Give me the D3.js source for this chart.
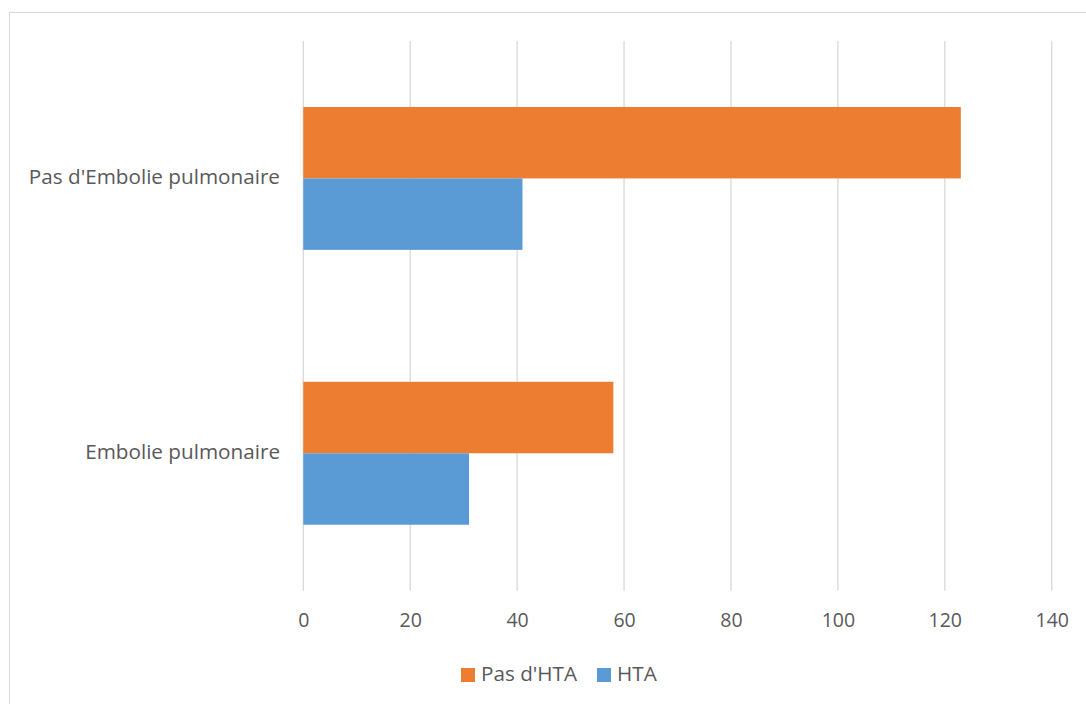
<!DOCTYPE html>
<html>
<head>
<meta charset="utf-8">
<script src="https://cdn.jsdelivr.net/npm/d3@7"></script>
<style>
  html, body { margin: 0; padding: 0; background: #fff; }
  svg { display: block; }
  text { font-family: "Open Sans", "Noto Sans", sans-serif; fill: #595959; }
</style>
</head>
<body>
<svg id="chart" width="1086" height="704"></svg>
<script>
// Categories (bottom to top as listed) and series values
const categories = ["Embolie pulmonaire", "Pas d'Embolie pulmonaire"];
const seriesNames = ["Pas d'HTA", "HTA"];
const pasHTA = [58, 123];
const hta = [31, 41];
const xTicks = [0, 20, 40, 60, 80, 100, 120, 140];
const colors = ["#ED7D31", "#5B9BD5"];

const svg = d3.select("#chart");
const W = 1086, H = 704;

// Chart frame
svg.append("rect")
  .attr("x", 9.5).attr("y", 12.5)
  .attr("width", W - 9).attr("height", H - 12)
  .attr("fill", "#fff").attr("stroke", "#d9d9d9").attr("stroke-width", 1);

const plot = { left: 303.3, right: 1051.7, top: 41, bottom: 590.7 };

const x = d3.scaleLinear().domain([0, 140]).range([plot.left, plot.right]);

// Category bands: first category at the bottom
const y = d3.scaleBand()
  .domain(categories.slice().reverse())
  .range([plot.top, plot.bottom])
  .paddingInner(0.48).paddingOuter(0.24);

const yInner = d3.scaleBand().domain(seriesNames).range([0, y.bandwidth()]);

// Vertical gridlines
svg.append("g")
  .selectAll("line")
  .data(xTicks)
  .join("line")
  .attr("x1", d => x(d)).attr("x2", d => x(d))
  .attr("y1", plot.top).attr("y2", plot.bottom)
  .attr("stroke", "#d9d9d9").attr("stroke-width", 1.3);

// Bars
const rows = categories.map((c, i) => ({ cat: c, vals: [pasHTA[i], hta[i]] }));
const groups = svg.append("g").selectAll("g")
  .data(rows)
  .join("g")
  .attr("transform", d => `translate(0,${y(d.cat)})`);

groups.selectAll("rect")
  .data(d => d.vals.map((v, j) => ({ name: seriesNames[j], v, j })))
  .join("rect")
  .attr("x", x(0))
  .attr("y", d => yInner(d.name))
  .attr("width", d => x(d.v) - x(0))
  .attr("height", yInner.bandwidth())
  .attr("fill", d => colors[d.j]);

// X axis labels
const xAxis = d3.axisBottom(x).tickValues(xTicks).tickSize(0).tickPadding(0);
const gx = svg.append("g").attr("transform", `translate(0,${plot.bottom})`).call(xAxis);
gx.select(".domain").remove();
gx.selectAll("text")
  .attr("dy", null)
  .attr("y", 31)
  .attr("dominant-baseline", "middle")
  .style("font-size", "19.5px")
  .style("font-family", "\"Open Sans\", \"Noto Sans\", sans-serif")
  .attr("fill", "#595959");

// Y axis labels
const yAxis = d3.axisLeft(y).tickSize(0).tickPadding(0);
const gy = svg.append("g").attr("transform", `translate(280,0)`).call(yAxis);
gy.select(".domain").remove();
gy.selectAll("text")
  .attr("dy", null)
  .attr("dominant-baseline", "middle")
  .style("font-size", "20.7px")
  .style("font-family", "\"Open Sans\", \"Noto Sans\", sans-serif")
  .attr("fill", "#595959");

// Legend
const legendItems = [
  { name: seriesNames[0], color: colors[0], x: 461 },
  { name: seriesNames[1], color: colors[1], x: 597 }
];
const lg = svg.append("g").selectAll("g")
  .data(legendItems)
  .join("g")
  .attr("transform", d => `translate(${d.x},668)`);
lg.append("rect").attr("width", 14).attr("height", 14).attr("fill", d => d.color);
lg.append("text")
  .attr("x", 20).attr("y", 7)
  .attr("dominant-baseline", "middle")
  .style("font-size", "20.7px")
  .text(d => d.name);
</script>
</body>
</html>
